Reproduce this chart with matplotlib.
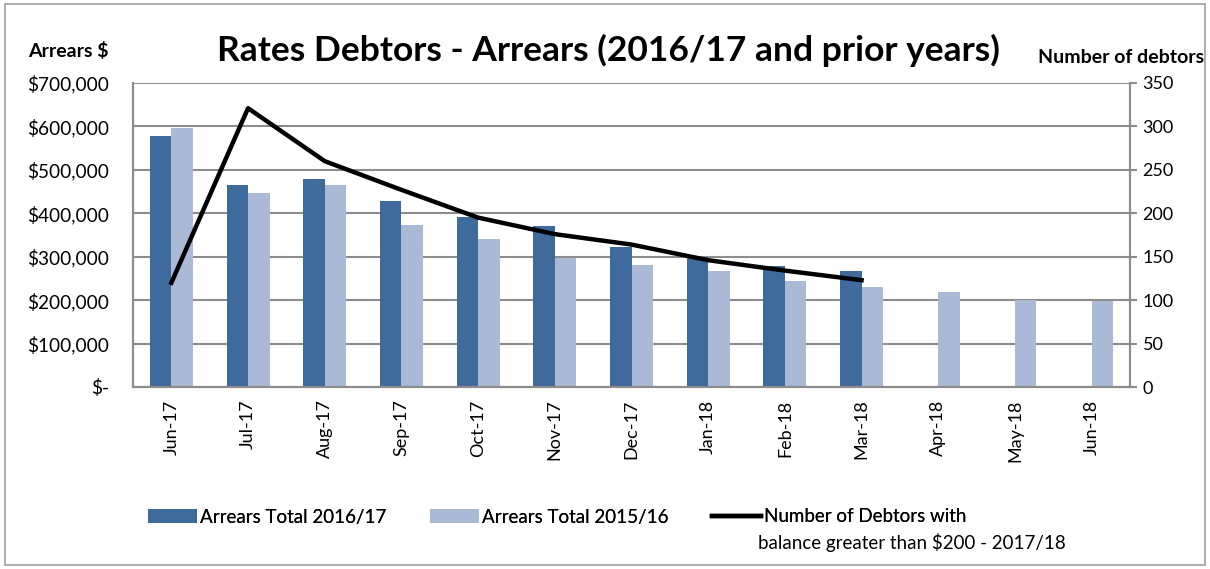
import numpy as np
import matplotlib.pyplot as plt
from matplotlib.patches import Rectangle

months = ["Jun-17", "Jul-17", "Aug-17", "Sep-17", "Oct-17", "Nov-17", "Dec-17",
          "Jan-18", "Feb-18", "Mar-18", "Apr-18", "May-18", "Jun-18"]
arrears_1617 = [578000, 465000, 479000, 428000, 391000, 370000, 322000,
                299000, 278000, 267000, np.nan, np.nan, np.nan]
arrears_1516 = [596000, 446000, 465000, 373000, 340000, 296000, 282000,
                266000, 245000, 230000, 219000, 201000, 199000]
num_debtors = [120, 321, 260, 227, 195, 176, 164, 146, 134, 123]

dark = "#3f6a9c"
light = "#aab9d6"
grid = "#8c8c8c"

plt.rcParams['font.family'] = ['Lato', 'DejaVu Sans']

fig = plt.figure(figsize=(12.1, 5.69), dpi=100)
fig.patches.append(Rectangle((0.004, 0.007), 0.992, 0.986, transform=fig.transFigure,
                             fill=False, edgecolor="#a0a0a0", linewidth=1.2))
ax = fig.add_axes([133 / 1210, 1 - 387 / 569, (1130 - 133) / 1210, (387 - 83) / 569])

x = np.arange(len(months))
w = 0.28
b1 = ax.bar(x - w / 2, arrears_1617, w, color=dark, zorder=2)
b2 = ax.bar(x + w / 2, arrears_1516, w, color=light, zorder=2)
ax.set_xlim(-0.5, len(months) - 0.5)
ax.set_ylim(0, 700000)
ax.set_yticks(np.arange(0, 700001, 100000))
ax.set_yticklabels(["$-"] + ["${:,.0f}".format(v) for v in range(100000, 700001, 100000)])
ax.yaxis.grid(True, color=grid, linewidth=1.5, zorder=0)
ax.set_axisbelow(True)
ax.set_xticks(x)
ax.set_xticklabels(months, rotation=90, fontsize=13)
ax.tick_params(axis='y', labelsize=13.7, length=0, pad=17)
ax.tick_params(axis='x', length=0, pad=9)
ax.spines["top"].set_visible(False)
for s in ["left", "bottom", "right"]:
    ax.spines[s].set_color(grid)
    ax.spines[s].set_linewidth(1.5)

ax2 = ax.twinx()
ln, = ax2.plot(x[:len(num_debtors)], num_debtors, color="black", linewidth=3.2, zorder=3)
ax2.set_ylim(0, 350)
ax2.set_yticks(range(0, 351, 50))
ax2.tick_params(axis='y', labelsize=13, length=5, color=grid, width=1.5, pad=4)
ax2.spines["top"].set_visible(False)
for s in ["left", "bottom", "right"]:
    ax2.spines[s].set_color(grid)
    ax2.spines[s].set_linewidth(1.5)

fig.text(608 / 1210, 1 - 50 / 569, "Rates Debtors - Arrears (2016/17 and prior years)",
         ha="center", va="center", fontsize=25.5, fontweight="bold")
fig.text(28 / 1210, 1 - 51 / 569, "Arrears $", ha="left", va="center",
         fontsize=14, fontweight="bold")
fig.text(1204 / 1210, 1 - 57 / 569, "Number of debtors", ha="right", va="center",
         fontsize=14, fontweight="bold")

# legend entries, laid out like the spreadsheet legend
leg_kw = dict(frameon=False, fontsize=13.5, handlelength=2.6, handletextpad=0.15,
              borderpad=0, borderaxespad=0, loc="center left")
entries = [(b1, "Arrears Total 2016/17", 148),
           (b2, "Arrears Total 2015/16", 430),
           (ln, "Number of Debtors with", 712)]
for handle, label, xpos in entries:
    lg = fig.legend([handle], [label], bbox_to_anchor=(xpos / 1210, 1 - 517 / 569), **leg_kw)
    fig.add_artist(lg)
fig.text(758 / 1210, 1 - 542 / 569, "balance greater than $200 - 2017/18",
         ha="left", va="center", fontsize=13.5)

fig.savefig("out.png", dpi=100)
